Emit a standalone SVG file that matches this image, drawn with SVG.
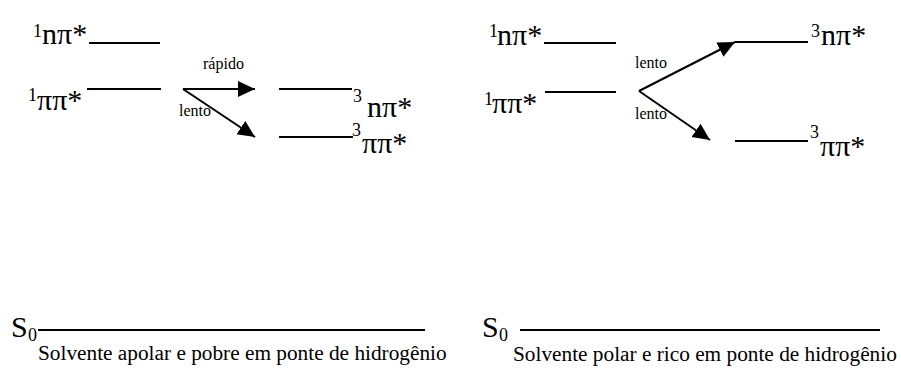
<svg xmlns="http://www.w3.org/2000/svg" width="901" height="370" viewBox="0 0 901 370" font-family="'Liberation Serif', 'Times New Roman', serif">
<style>
.m{font-size:30px;font-family:'Liberation Serif',serif}
.s{font-size:18px;font-family:'Liberation Serif',serif}
.l{font-size:16px;font-family:'Liberation Serif',serif}
.c{font-size:21.3px;font-family:'Liberation Serif',serif}
.lv{stroke:#000;stroke-width:2;fill:none}
.ar{stroke:#000;stroke-width:2;fill:none;marker-end:url(#ah)}
</style>
<defs>
<marker id="ah" markerUnits="userSpaceOnUse" markerWidth="18" markerHeight="18" viewBox="0 0 18 18" refX="17" refY="9" orient="auto">
<path d="M0,1 L17,9 L0,17 Z" fill="#000"/>
</marker>
</defs>
<g id="left-1npi">
<line class="lv" x1="89" y1="43" x2="160" y2="43"/>
<text class="s" x="33" y="37">1</text><text class="m" x="42" y="44">nπ*</text>
</g>
<g id="left-1pipi">
<line class="lv" x1="87" y1="89" x2="161" y2="89"/>
<text class="s" x="28" y="101">1</text><text class="m" x="37" y="110">ππ*</text>
</g>
<g id="left-3npi">
<line class="lv" x1="279" y1="89" x2="352" y2="89"/>
<text class="s" x="353" y="102">3</text><text class="m" x="367" y="117">nπ*</text>
</g>
<g id="left-3pipi">
<line class="lv" x1="279" y1="137" x2="353" y2="137"/>
<text class="s" x="352" y="136">3</text><text class="m" x="362" y="153">ππ*</text>
</g>
<g id="left-s0">
<line class="lv" x1="38" y1="330" x2="425" y2="330"/>
<text class="m" x="11" y="337">S</text><text class="s" x="28" y="341">0</text>
<text class="c" x="38" y="360">Solvente apolar e pobre em ponte de hidrogênio</text>
</g>
<g id="right-1npi">
<line class="lv" x1="544" y1="43" x2="616" y2="43"/>
<text class="s" x="489" y="37">1</text><text class="m" x="497" y="45">nπ*</text>
</g>
<g id="right-1pipi">
<line class="lv" x1="545" y1="92" x2="616" y2="92"/>
<text class="s" x="484" y="105">1</text><text class="m" x="492" y="113">ππ*</text>
</g>
<g id="right-3npi">
<line class="lv" x1="735" y1="42" x2="808" y2="42"/>
<text class="s" x="811" y="37">3</text><text class="m" x="821" y="45">nπ*</text>
</g>
<g id="right-3pipi">
<line class="lv" x1="735" y1="141" x2="808" y2="141"/>
<text class="s" x="810" y="138">3</text><text class="m" x="820" y="156">ππ*</text>
</g>
<g id="right-s0">
<line class="lv" x1="520" y1="330" x2="880" y2="330"/>
<text class="m" x="482" y="337">S</text><text class="s" x="499" y="341">0</text>
<text class="c" x="513" y="361">Solvente polar e rico em ponte de hidrogênio</text>
</g>
<g id="connectors">
<line class="ar" x1="183" y1="89" x2="255" y2="89"/>
<line class="ar" x1="183" y1="89" x2="255" y2="137"/>
<text class="l" x="203" y="69">rápido</text>
<text class="l" x="179" y="116">lento</text>
<line class="ar" x1="639" y1="91" x2="735" y2="42"/>
<line class="ar" x1="639" y1="91" x2="710" y2="140"/>
<text class="l" x="635" y="68">lento</text>
<text class="l" x="635" y="119">lento</text>
</g>
</svg>
